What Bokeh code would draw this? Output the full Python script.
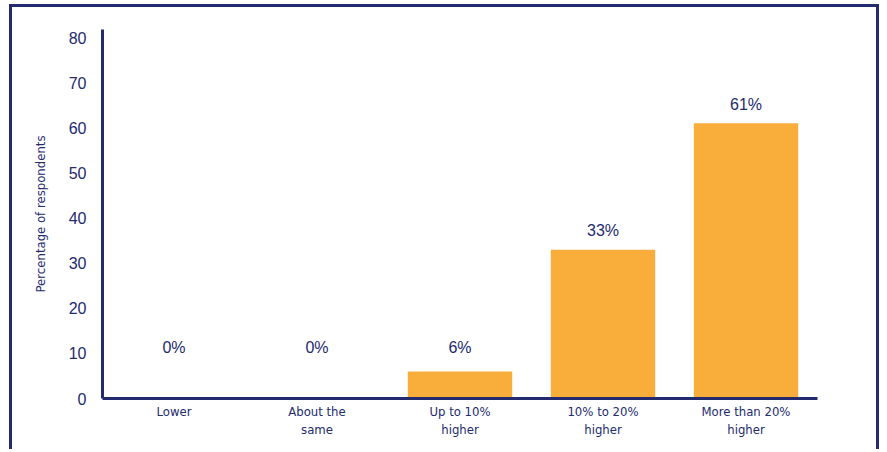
from bokeh.plotting import figure
from bokeh.models import ColumnDataSource, FixedTicker, Range1d
from bokeh.embed import file_html
from bokeh.resources import INLINE
from bokeh.core.properties import value

categories = ["Lower", "About the\nsame", "Up to 10%\nhigher", "10% to 20%\nhigher", "More than 20%\nhigher"]
percentages = [0, 0, 6, 33, 61]
value_labels = ["0%", "0%", "6%", "33%", "61%"]
y_ticks = [0, 10, 20, 30, 40, 50, 60, 70, 80]

NAVY = "#232a6e"
ORANGE = "#f9ae3c"
LABEL_FLOOR = 7
NARROW = "'DejaVu Sans Condensed', 'Roboto Condensed', Roboto, sans-serif"

xs = [i + 0.5 for i in range(len(categories))]
src = ColumnDataSource(dict(
    x=xs, top=percentages, lab=value_labels,
    ly=[max(v, LABEL_FLOOR) for v in percentages],
))

p = figure(width=870, height=445, output_backend="svg", toolbar_location=None,
           x_range=Range1d(0, len(categories)), y_range=Range1d(0, 81.8),
           min_border_left=90, min_border_right=65, min_border_top=22, min_border_bottom=54)
p.styles = {"margin-left": "9px", "margin-top": "4px",
            "border-left": f"3px solid {NAVY}", "border-top": f"3px solid {NAVY}",
            "border-right": f"3px solid {NAVY}"}

p.vbar(x="x", top="top", bottom=0, width=0.73, source=src, fill_color=ORANGE, line_color=None)
p.text(x="x", y="ly", text="lab", source=src, text_align="center", text_baseline="alphabetic",
       y_offset=-19, text_font=value("Liberation Sans"), text_font_size="16px", text_color=NAVY)

p.grid.visible = False
p.outline_line_color = None

p.xaxis.ticker = FixedTicker(ticks=xs)
p.xaxis.major_label_overrides = {x: c for x, c in zip(xs, categories)}
p.yaxis.ticker = FixedTicker(ticks=y_ticks)
p.yaxis.axis_label = "Percentage of respondents"

for ax in (p.xaxis[0], p.yaxis[0]):
    ax.axis_line_color = NAVY
    ax.axis_line_width = 3
    ax.major_tick_line_color = None
    ax.minor_tick_line_color = None
    ax.major_label_text_color = NAVY

p.xaxis.major_label_text_font = NARROW
p.xaxis.major_label_text_font_size = "13px"
p.xaxis.major_label_standoff = -1
p.yaxis.major_label_text_font = "Liberation Sans"
p.yaxis.major_label_text_font_size = "16px"
p.yaxis.major_label_standoff = 10
p.yaxis.axis_label_text_font = NARROW
p.yaxis.axis_label_text_font_size = "13px"
p.yaxis.axis_label_text_font_style = "normal"
p.yaxis.axis_label_text_color = NAVY
p.yaxis.axis_label_standoff = 18

open("out.html", "w").write(file_html(p, INLINE))
